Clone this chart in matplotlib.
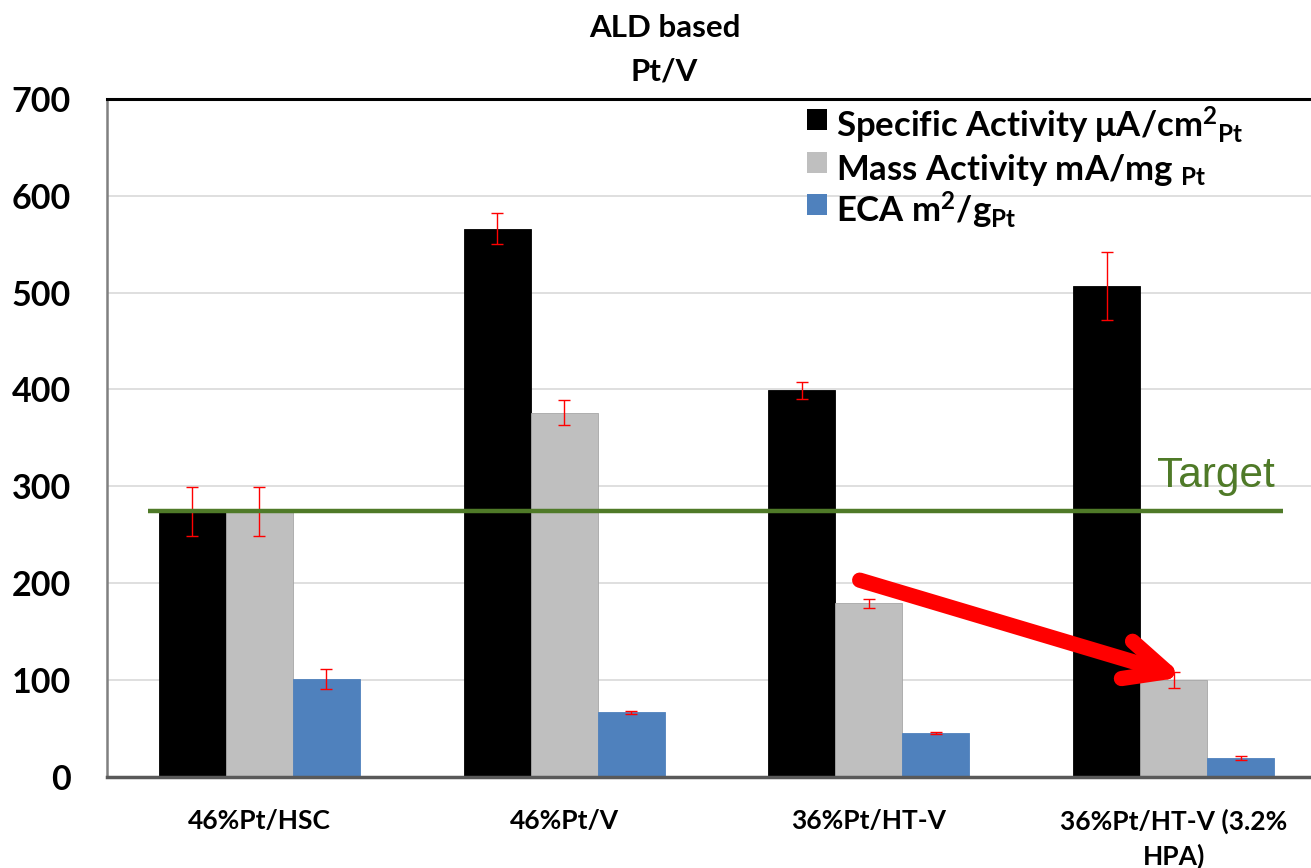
import matplotlib
matplotlib.use("Agg")
import matplotlib.pyplot as plt
from matplotlib.patches import Rectangle
import numpy as np

categories = ["46%Pt/HSC", "46%Pt/V", "36%Pt/HT-V", "36%Pt/HT-V (3.2%\nHPA)"]
specific_activity = [274, 566, 399, 507]
specific_err = [25, 16, 9, 35]
mass_activity = [274, 376, 179, 100]
mass_err = [25, 13, 5, 8]
eca = [101, 66.5, 45, 19.7]
eca_err = [10, 1.5, 1, 2]
target = 274
yticks = [0, 100, 200, 300, 400, 500, 600, 700]

FONT = "Lato"
plt.rcParams["font.family"] = [FONT, "DejaVu Sans"]
plt.rcParams["mathtext.fontset"] = "custom"
plt.rcParams["mathtext.rm"] = FONT + ":bold"
plt.rcParams["mathtext.bf"] = FONT + ":bold"
plt.rcParams["mathtext.it"] = FONT + ":bold"
plt.rcParams["mathtext.default"] = "bf"

W, H = 1311, 868
fig = plt.figure(figsize=(W / 100, H / 100), dpi=100)
ax = fig.add_axes([107 / W, 1 - 776.7 / H, (1311 - 107) / W, (776.7 - 99) / H])

x = np.arange(len(categories))
bw = 0.22
series = [
    (specific_activity, specific_err, "#000000", "Specific Activity μA/cm$^{2}{}_{Pt}$"),
    (mass_activity, mass_err, "#BFBFBF", "Mass Activity mA/mg $_{Pt}$"),
    (eca, eca_err, "#4F81BD", "ECA m$^{2}$/g$_{Pt}$"),
]
for i, (vals, errs, col, lab) in enumerate(series):
    ax.bar(x + (i - 1) * bw, vals, width=bw, color=col, label=lab, zorder=2,
           edgecolor="#A6A6A6" if i == 1 else col, linewidth=0.6)
    ax.errorbar(x + (i - 1) * bw, vals, yerr=errs, fmt="none", ecolor="#FF0000",
                elinewidth=1.0, capsize=4.5, capthick=1.0, zorder=3)

ax.set_xlim(-0.5, 3.451)
ax.set_ylim(0, 700)
ax.set_yticks(yticks)
ax.set_yticklabels([str(v) for v in yticks], fontsize=24.5, fontweight="bold")
ax.set_xticks(x)
ax.set_xticklabels(categories, fontsize=19, fontweight="bold", linespacing=1.45)
ax.tick_params(axis="both", length=0)
ax.tick_params(axis="y", pad=26)
ax.tick_params(axis="x", pad=23)
for lab in ax.get_xticklabels():
    lab.set_verticalalignment("top")

ax.yaxis.grid(True, color="#D9D9D9", linewidth=1.2, zorder=0)
ax.set_axisbelow(True)
ax.spines["right"].set_visible(False)
ax.spines["top"].set_color("#000000")
ax.spines["top"].set_linewidth(2.2)
ax.spines["left"].set_color("#808080")
ax.spines["left"].set_linewidth(1.8)
ax.spines["bottom"].set_color("#595959")
ax.spines["bottom"].set_linewidth(2.5)

# Target line
ax.plot([-0.366, 3.36], [target, target], color="#4F7A28", linewidth=3.2, zorder=4,
        solid_capstyle="butt")
ax.text(3.332, target + 25, "Target", color="#4F7A28", fontsize=30.5,
        family=["Liberation Sans"], ha="right", va="baseline", zorder=5)

# Red arrow annotation
ax.annotate("", xy=(3.035, 103), xytext=(1.97, 203),
            arrowprops=dict(arrowstyle="->,head_length=3.0,head_width=1.4",
                            color="#FF0000", lw=11, capstyle="round",
                            joinstyle="round", shrinkA=0, shrinkB=0),
            zorder=6)

# Title
fig.text(0.507, 1 - 28 / H, "ALD based", ha="center", va="center",
         fontsize=22.5, fontweight="bold")
fig.text(0.507, 1 - 72 / H, "Pt/V", ha="center", va="center",
         fontsize=22.5, fontweight="bold")

# Legend (manually placed entries)
sq = 21
sq_tops = [109, 151.7, 194]
baselines = [138, 180, 222.7]
for (vals, errs, col, lab), top, base in zip(series, sq_tops, baselines):
    fig.add_artist(Rectangle((806.5 / W, 1 - (top + sq) / H), sq / W, sq / H,
                             transform=fig.transFigure, facecolor=col,
                             edgecolor="none"))
    fig.text(836.5 / W, 1 - base / H, lab, ha="left", va="baseline",
             fontsize=25, fontweight="bold")

fig.savefig("out.png", dpi=100)
